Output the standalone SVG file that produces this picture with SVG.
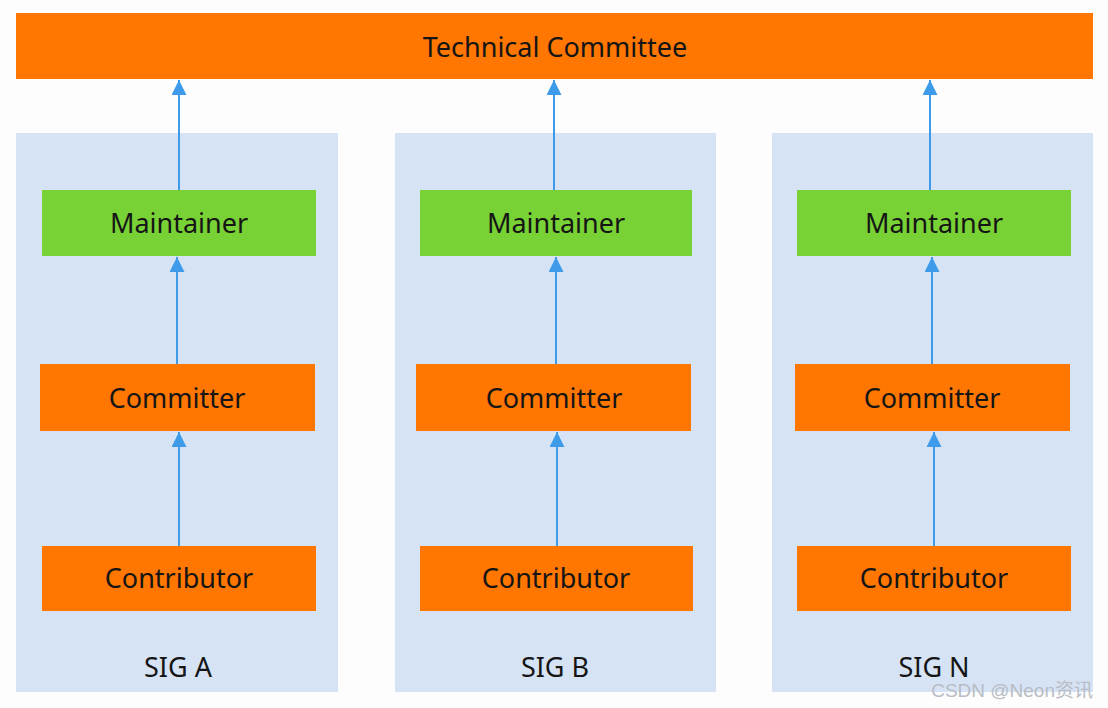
<svg xmlns="http://www.w3.org/2000/svg" width="1108" height="708" viewBox="0 0 1108 708">
<style>
.panel{fill:#D6E3F5}
.orange{fill:#FF7601}
.green{fill:#78D236}
.lbl{font-family:"Noto Sans","Open Sans",sans-serif;font-size:27px;fill:#151515;text-anchor:middle;dominant-baseline:central}
.conn{stroke:#3D9BE9;stroke-width:2;fill:none;marker-end:url(#ah)}
.wm{font-family:"Liberation Sans","Noto Sans CJK SC",sans-serif;font-size:19px;fill:#b8bcc4;text-anchor:end}
</style>
<defs>
<marker id="ah" viewBox="0 0 10 10" refX="10" refY="5" markerWidth="7.5" markerHeight="7.5" orient="auto" markerUnits="strokeWidth">
<path d="M0,0 L10,5 L0,10 z" fill="#3D9BE9"/>
</marker>
</defs>
<rect width="1108" height="708" fill="#FDFDFD"/>
<g id="tc"><rect class="orange" x="16" y="13" width="1077" height="66"/><text class="lbl" x="555" y="46">Technical Committee</text></g>
<g id="sigA"><rect class="panel" x="16" y="133" width="322" height="559"/><text class="lbl" x="178" y="666">SIG A</text></g>
<g id="sigB"><rect class="panel" x="395" y="133" width="321" height="559"/><text class="lbl" x="555" y="666">SIG B</text></g>
<g id="sigN"><rect class="panel" x="772" y="133" width="321" height="559"/><text class="lbl" x="934" y="666">SIG N</text></g>
<g id="maintA"><rect class="green" x="42" y="190" width="274" height="66"/><text class="lbl" x="179" y="222">Maintainer</text></g>
<g id="maintB"><rect class="green" x="420" y="190" width="272" height="66"/><text class="lbl" x="556" y="222">Maintainer</text></g>
<g id="maintN"><rect class="green" x="797" y="190" width="274" height="66"/><text class="lbl" x="934" y="222">Maintainer</text></g>
<g id="commA"><rect class="orange" x="40" y="364" width="275" height="67"/><text class="lbl" x="177" y="397">Committer</text></g>
<g id="commB"><rect class="orange" x="416" y="364" width="275" height="67"/><text class="lbl" x="554" y="397">Committer</text></g>
<g id="commN"><rect class="orange" x="795" y="364" width="275" height="67"/><text class="lbl" x="932" y="397">Committer</text></g>
<g id="contA"><rect class="orange" x="42" y="546" width="274" height="65"/><text class="lbl" x="179" y="577">Contributor</text></g>
<g id="contB"><rect class="orange" x="420" y="546" width="273" height="65"/><text class="lbl" x="556" y="577">Contributor</text></g>
<g id="contN"><rect class="orange" x="797" y="546" width="274" height="65"/><text class="lbl" x="934" y="577">Contributor</text></g>
<g id="connectors">
<line class="conn" x1="179" y1="190" x2="179" y2="80"/>
<line class="conn" x1="554" y1="190" x2="554" y2="80"/>
<line class="conn" x1="930" y1="190" x2="930" y2="80"/>
<line class="conn" x1="177" y1="364" x2="177" y2="257"/>
<line class="conn" x1="556" y1="364" x2="556" y2="257"/>
<line class="conn" x1="932" y1="364" x2="932" y2="257"/>
<line class="conn" x1="179" y1="546" x2="179" y2="432"/>
<line class="conn" x1="557" y1="546" x2="557" y2="432"/>
<line class="conn" x1="934" y1="546" x2="934" y2="432"/>
</g>
<text class="wm" x="1093" y="697">CSDN @Neon资讯</text>
</svg>
